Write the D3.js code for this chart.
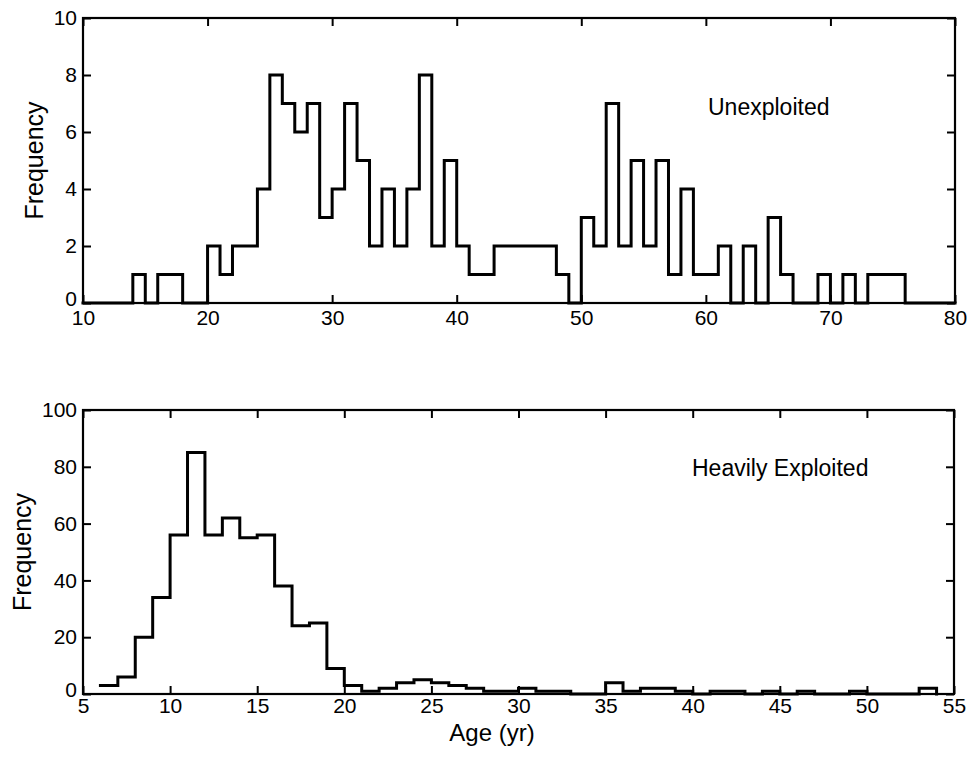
<!DOCTYPE html>
<html>
<head>
<meta charset="utf-8">
<script src="https://cdn.jsdelivr.net/npm/d3@7"></script>
<style>
  html, body { margin: 0; padding: 0; background: #fff; }
  svg { display: block; }
  text { font-family: "Liberation Sans", Arial, Helvetica, sans-serif; fill: #000; }
</style>
</head>
<body>
<svg id="chart" width="976" height="760"></svg>
<script>
// ---------- DATA ----------
// Upper panel: unexploited population, 1-yr age bins (bin start ages)
const topAges = [10,11,12,13,14,15,16,17,18,19,20,21,22,23,24,25,26,27,28,29,
  30,31,32,33,34,35,36,37,38,39,40,41,42,43,44,45,46,47,48,49,
  50,51,52,53,54,55,56,57,58,59,60,61,62,63,64,65,66,67,68,69,
  70,71,72,73,74,75,76,77,78,79,80];
const topCounts = [0,0,0,0,1,0,1,1,0,0,2,1,2,2,4,8,7,6,7,3,
  4,7,5,2,4,2,4,8,2,5,2,1,1,2,2,2,2,2,1,0,
  3,2,7,2,5,2,5,1,4,1,1,2,0,2,0,3,1,0,0,1,
  0,1,0,1,1,1,0,0,0,0,0];
const topXTicks = [10,20,30,40,50,60,70,80];
const topYTicks = [0,2,4,6,8,10];
const topLabel = "Unexploited";

// Lower panel: heavily exploited population
const botAges = [6,7,8,9,10,11,12,13,14,15,16,17,18,19,20,21,22,23,24,25,
  26,27,28,29,30,31,32,33,34,35,36,37,38,39,40,41,42,43,44,45,
  46,47,48,49,50,51,52,53,54];
const botCounts = [3,6,20,34,56,85,56,62,55,56,38,24,25,9,3,1,2,4,5,4,
  3,2,1,1,2,1,1,0,0,4,1,2,2,1,0,1,1,0,1,0,
  1,0,0,1,0,0,0,2,0];
const botXTicks = [5,10,15,20,25,30,35,40,45,50,55];
const botYTicks = [0,20,40,60,80,100];
const botLabel = "Heavily Exploited";

const yTitle = "Frequency";
const xTitle = "Age (yr)";

// ---------- DRAW ----------
const svg = d3.select("#chart");

function panel(cfg) {
  const x = d3.scaleLinear().domain(cfg.xDomain).range([cfg.left, cfg.right]);
  const y = d3.scaleLinear().domain(cfg.yDomain).range([cfg.bottom, cfg.top]);
  const g = svg.append("g");

  const tickLen = 8;
  const fs = "21px";

  const ax = g.append("g").attr("transform", `translate(0,${cfg.bottom})`)
    .call(d3.axisBottom(x).tickValues(cfg.xTicks).tickSizeInner(-tickLen).tickSizeOuter(0).tickPadding(cfg.xPad));
  const axT = g.append("g").attr("transform", `translate(0,${cfg.top})`)
    .call(d3.axisTop(x).tickValues(cfg.xTicks).tickSizeInner(-tickLen).tickSizeOuter(0).tickFormat(""));
  const ay = g.append("g").attr("transform", `translate(${cfg.left},0)`)
    .call(d3.axisLeft(y).tickValues(cfg.yTicks).tickSizeInner(-tickLen).tickSizeOuter(0).tickPadding(6));
  const ayR = g.append("g").attr("transform", `translate(${cfg.right},0)`)
    .call(d3.axisRight(y).tickValues(cfg.yTicks).tickSizeInner(-tickLen).tickSizeOuter(0).tickFormat(""));

  [ax, axT, ay, ayR].forEach(a => {
    a.select(".domain").remove();
    a.selectAll(".tick line").attr("stroke", "#000").attr("stroke-width", 2);
    a.selectAll("text").style("font-size", fs).attr("fill", "#000")
      .style("font-family", '"Liberation Sans", Arial, sans-serif');
  });
  ay.selectAll(".tick text").filter(d => d === cfg.yDomain[0]).attr("dy", "0.1em");

  g.append("rect")
    .attr("x", cfg.left).attr("y", cfg.top)
    .attr("width", cfg.right - cfg.left).attr("height", cfg.bottom - cfg.top)
    .attr("fill", "none").attr("stroke", "#000").attr("stroke-width", 2.2);

  const pts = cfg.ages.map((a, i) => [a, cfg.counts[i]]);
  const line = d3.line().x(d => x(d[0])).y(d => y(d[1])).curve(d3.curveStepAfter);
  g.append("path").datum(pts)
    .attr("d", line)
    .attr("fill", "none").attr("stroke", "#000")
    .attr("stroke-width", 3).attr("stroke-linejoin", "miter").attr("stroke-linecap", "square");

  g.append("text")
    .attr("transform", `translate(${cfg.yTitleX},${(cfg.top + cfg.bottom) / 2}) rotate(-90)`)
    .attr("text-anchor", "middle")
    .style("font-size", "25px")
    .text(yTitle);

  g.append("text")
    .attr("x", cfg.labelX).attr("y", cfg.labelY)
    .style("font-size", "23px")
    .text(cfg.label);

  return { x, y, g };
}

panel({
  ages: topAges, counts: topCounts,
  xDomain: [10, 80], yDomain: [0, 10],
  left: 83, right: 955, top: 18, bottom: 303,
  xTicks: topXTicks, yTicks: topYTicks, xPad: 7,
  yTitleX: 43, label: topLabel, labelX: 708, labelY: 115
});

panel({
  ages: botAges, counts: botCounts,
  xDomain: [5, 55], yDomain: [0, 100],
  left: 83, right: 954, top: 410, bottom: 694,
  xTicks: botXTicks, yTicks: botYTicks, xPad: 4,
  yTitleX: 31, label: botLabel, labelX: 692, labelY: 476
});

svg.append("text")
  .attr("x", 492).attr("y", 741)
  .attr("text-anchor", "middle")
  .style("font-size", "24px")
  .text(xTitle);
</script>
</body>
</html>
